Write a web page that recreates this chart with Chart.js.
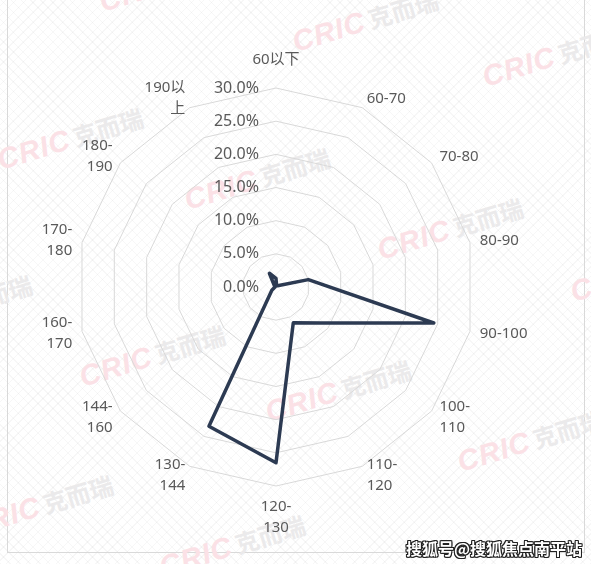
<!DOCTYPE html>
<html>
<head>
<meta charset="utf-8">
<script src="https://cdn.jsdelivr.net/npm/chart.js@4/dist/chart.umd.min.js"></script>
<style>
  html,body{margin:0;padding:0;background:#fff;}
  #wrap{position:relative;width:591px;height:564px;overflow:hidden;
    background-image:
      repeating-linear-gradient(45deg, rgba(0,0,0,0.03) 0 1px, transparent 1px 7px),
      repeating-linear-gradient(-45deg, rgba(0,0,0,0.03) 0 1px, transparent 1px 7px);}
  #frame{position:absolute;left:7px;top:-2px;width:576px;height:554px;border:1px solid #d9d9d9;border-top:none;}
  .wm{position:absolute;white-space:nowrap;transform:translate(-50%,-50%) rotate(-17deg);}
  .wm .c{font:italic 900 29px "Liberation Sans","DejaVu Sans",sans-serif;color:#fbe1e6;letter-spacing:1px;}
  .wm .k{font:700 24px "Noto Sans CJK SC",sans-serif;color:#ebeaeb;margin-left:4px;}
  #foot{position:absolute;left:406px;top:536px;font:700 16px "Noto Sans CJK SC",sans-serif;color:#fff;
    text-shadow:1px 0 0 #222,-1px 0 0 #222,0 1px 0 #222,0 -1px 0 #222,1px 1px 0 #222,-1px -1px 0 #222,1px -1px 0 #222,-1px 1px 0 #222;}
  canvas{position:absolute;left:0;top:0;}
</style>
</head>
<body>
<div id="wrap">
  <div id="frame"></div>
  <div id="wms"></div>
  <canvas id="c" width="591" height="564"></canvas>
  <div id="foot">搜狐号@搜狐焦点南平站</div>
</div>
<script>
// ---- data ----
const categories = [["60以下"],["60-70"],["70-80"],["80-90"],["90-100"],["100-","110"],["110-","120"],["120-","130"],["130-","144"],["144-","160"],["160-","170"],["170-","180"],["180-","190"],["190以","上"]];
const shares = [1.3, 0.2, 0.3, 5.0, 24.4, 8.7, 6.0, 26.5, 23.3, 0.8, 0.2, 0.1, 0.3, 2.3];
const tickValues = [0, 5, 10, 15, 20, 25, 30];
const tickLabels = ["0.0%","5.0%","10.0%","15.0%","20.0%","25.0%","30.0%"];
const watermarkCenters = [[365,20],[555,55],[172,-20],[70,138],[257,178],[450,228],[643,270],[-41,305],[152,355],[338,390],[530,440],[40,505],[232,545],[425,595]];

// watermarks (decoration)
const wmBox = document.getElementById('wms');
watermarkCenters.forEach(([x,y])=>{
  const d=document.createElement('div');d.className='wm';
  d.style.left=x+'px';d.style.top=y+'px';
  d.innerHTML='<span class="c">CRIC</span><span class="k">克而瑞</span>';
  wmBox.appendChild(d);
});

const labelPlugin = {
  id:'customLabels',
  afterDraw(chart){
    const s = chart.scales.r; const ctx = chart.ctx;
    ctx.save();
    // tick labels
    ctx.font = '16px "Noto Sans","Noto Sans CJK SC",sans-serif';
    ctx.fillStyle = '#595959'; ctx.textAlign='right'; ctx.textBaseline='middle';
    tickValues.forEach((v,i)=>{
      const d = s.getDistanceFromCenterForValue(v);
      ctx.fillText(tickLabels[i], s.xCenter-17, s.yCenter-d);
    });
    // point labels
    ctx.font = '15px "Noto Sans","Noto Sans CJK SC",sans-serif';
    const lh = 21;
    categories.forEach((lines,i)=>{
      const p = s.getPointPosition(i, s.drawingArea+10);
      const ang = s.getIndexAngle(i); // 0 = top, clockwise
      const sx = Math.sin(ang);
      ctx.textAlign = Math.abs(sx)<0.05 ? 'center' : (sx>0 ? 'left':'right');
      const n = lines.length; const h = n*lh;
      const cy = -Math.cos(ang);
      let top;
      if (Math.abs(sx)<0.05 && cy<0) top = p.y - 8 - h;
      else if (Math.abs(sx)<0.05) top = p.y;
      else top = p.y - h/2;
      lines.forEach((t,k)=>ctx.fillText(t, p.x, top + lh*k + lh/2));
    });
    ctx.restore();
  }
};

new Chart(document.getElementById('c'), {
  type:'radar',
  data:{
    labels: categories,
    datasets:[{
      data: shares,
      borderColor:'#2c3a52',
      borderWidth:3.5,
      borderJoinStyle:'round',
      borderCapStyle:'round',
      fill:false,
      pointRadius:0,
      tension:0
    }]
  },
  options:{
    responsive:false,
    animation:false,
    devicePixelRatio:1,
    layout:{padding:{left:77,right:116,top:88,bottom:78}},
    plugins:{legend:{display:false},tooltip:{enabled:false}},
    scales:{
      r:{
        min:0,max:30,
        ticks:{display:false,stepSize:5},
        grid:{color:'#d9d9d9',lineWidth:1,circular:false},
        angleLines:{display:false},
        pointLabels:{display:false}
      }
    }
  },
  plugins:[labelPlugin]
});
</script>
</body>
</html>
